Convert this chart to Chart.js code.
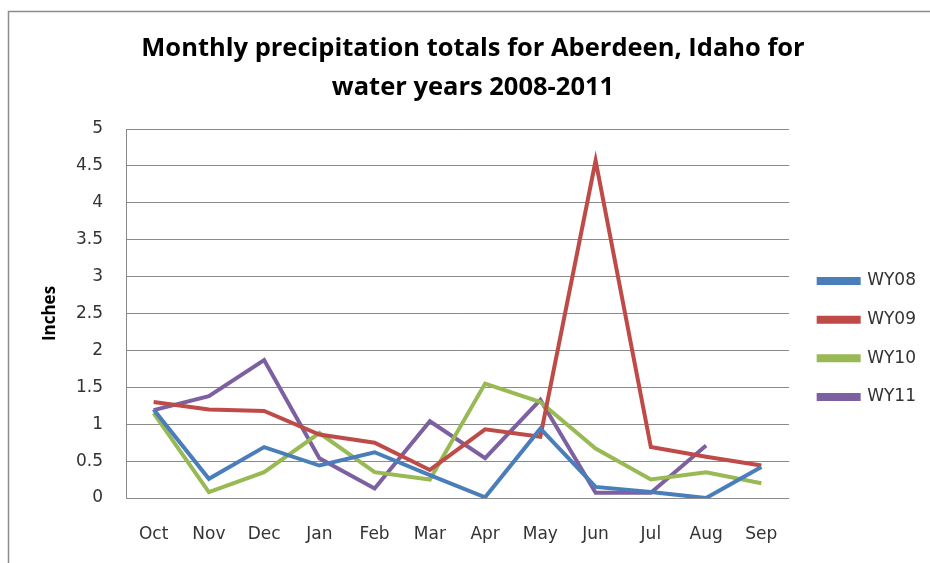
<!DOCTYPE html>
<html>
<head>
<meta charset="utf-8">
<title>Aberdeen precipitation</title>
<script src="https://cdn.jsdelivr.net/npm/chart.js@4.4.0/dist/chart.umd.min.js"></script>
<style>
  html, body { margin: 0; padding: 0; background: #fff; }
  #wrap { width: 930px; height: 563px; }
</style>
</head>
<body>
<div id="wrap"><canvas id="chart" width="930" height="563"></canvas></div>
<script>
// water year months, Oct through Sep
const months = ["Oct", "Nov", "Dec", "Jan", "Feb", "Mar", "Apr", "May", "Jun", "Jul", "Aug", "Sep"];

// monthly totals in inches
const wy08 = [1.20, 0.26, 0.69, 0.44, 0.62, 0.31, 0.01, 0.94, 0.15, 0.08, 0.00, 0.42];
const wy09 = [1.30, 1.20, 1.18, 0.86, 0.75, 0.38, 0.93, 0.83, 4.57, 0.69, 0.56, 0.44];
const wy10 = [1.15, 0.08, 0.35, 0.88, 0.35, 0.25, 1.55, 1.30, 0.67, 0.25, 0.35, 0.20];
const wy11 = [1.19, 1.38, 1.87, 0.54, 0.13, 1.04, 0.54, 1.33, 0.07, 0.07, 0.71, null];

const inchTicks = [0, 0.5, 1, 1.5, 2, 2.5, 3, 3.5, 4, 4.5, 5];

const tickFont = { family: "'DejaVu Sans', sans-serif", size: 17 };
const boldFont = "'Open Sans', sans-serif";

function series(label, data, color) {
  return {
    label: label,
    data: data,
    borderColor: color,
    backgroundColor: color,
    borderWidth: 4,
    pointRadius: 0,
    pointHoverRadius: 0,
    tension: 0,
    fill: false
  };
}

// thin frame along the top and left edge, like the chart object border
const frame = {
  id: "frame",
  beforeDraw(chart) {
    const c = chart.ctx;
    c.save();
    c.fillStyle = "#fff";
    c.fillRect(0, 0, chart.width, chart.height);
    c.strokeStyle = "#8c8c8c";
    c.lineWidth = 1.5;
    c.beginPath();
    c.moveTo(8.5, chart.height);
    c.lineTo(8.5, 11.5);
    c.lineTo(chart.width, 11.5);
    c.stroke();
    c.restore();
  }
};

new Chart(document.getElementById("chart"), {
  type: "line",
  data: {
    labels: months,
    datasets: [
      series("WY08", wy08, "#4a7ebb"),
      series("WY09", wy09, "#be4b48"),
      series("WY10", wy10, "#98b954"),
      series("WY11", wy11, "#7d60a0")
    ]
  },
  options: {
    responsive: false,
    animation: false,
    layout: { padding: { left: 20, right: 4, top: 0, bottom: 0 } },
    plugins: {
      title: {
        display: true,
        text: ["Monthly precipitation totals for Aberdeen, Idaho for", "water years 2008-2011"],
        color: "#000",
        font: { family: boldFont, size: 25.5, weight: "bold", lineHeight: 39 / 25.5 },
        padding: { top: 29, bottom: 22 }
      },
      legend: {
        position: "right",
        fullSize: false,
        // blank legend title only pushes the entries down a little
        title: { display: true, text: "", font: { size: 10 }, padding: { top: 39, bottom: 0 } },
        labels: {
          boxWidth: 40,
          boxHeight: 4,
          padding: 21.7,
          color: "#333",
          font: tickFont
        }
      },
      tooltip: { enabled: false }
    },
    scales: {
      x: {
        offset: true,
        grid: { display: false, drawTicks: false },
        border: { display: true, color: "#8a8a8a", width: 1 },
        ticks: { color: "#333", font: tickFont, padding: 26, maxRotation: 0 },
        afterFit(s) { s.height = 65; }
      },
      y: {
        min: 0,
        max: 5,
        grid: { color: "#8a8a8a", lineWidth: 1, drawTicks: false },
        border: { display: true, color: "#8a8a8a", width: 1 },
        afterBuildTicks(s) { s.ticks = inchTicks.map(v => ({ value: v })); },
        ticks: {
          color: "#333",
          font: tickFont,
          padding: 23,
          callback: v => String(v)
        },
        title: {
          display: true,
          text: "Inches",
          color: "#000",
          font: { family: boldFont, size: 17, weight: "bold" },
          padding: { top: 20, bottom: 0 }
        },
        afterFit(s) { s.width = 106; }
      },
      // empty strip between the plot and the legend
      gap: {
        type: "linear",
        position: "right",
        display: true,
        grid: { display: false, drawTicks: false },
        border: { display: false },
        ticks: { display: false },
        afterFit(s) { s.width = 8; }
      }
    }
  },
  plugins: [frame]
});
</script>
</body>
</html>
